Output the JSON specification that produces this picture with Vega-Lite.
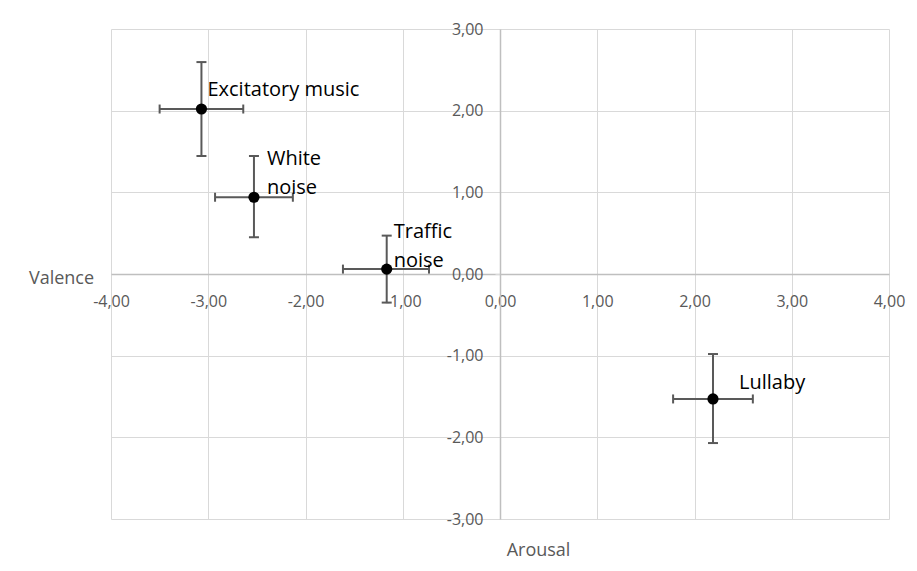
{
  "$schema": "https://vega.github.io/schema/vega-lite/v6.json",
  "width": 778,
  "height": 490,
  "autosize": {"type": "none"},
  "padding": {"left": 111, "top": 29, "right": 28, "bottom": 52},
  "background": "white",
  "config": {"view": {"stroke": null}, "font": "Open Sans"},
  "data": {
    "values": [
      {"name": "Excitatory music", "x": -3.07, "y": 2.02, "xlo": -3.5, "xhi": -2.64, "ylo": 1.445, "yhi": 2.595},
      {"name": "White noise", "x": -2.53, "y": 0.94, "xlo": -2.93, "xhi": -2.13, "ylo": 0.45, "yhi": 1.445},
      {"name": "Traffic noise", "x": -1.165, "y": 0.06, "xlo": -1.615, "xhi": -0.73, "ylo": -0.35, "yhi": 0.47},
      {"name": "Lullaby", "x": 2.19, "y": -1.53, "xlo": 1.78, "xhi": 2.6, "ylo": -2.07, "yhi": -0.98}
    ]
  },
  "layer": [
    {
      "mark": {"type": "rule", "color": "#595959", "strokeWidth": 2},
      "encoding": {
        "x": {
          "field": "xlo", "type": "quantitative",
          "scale": {"domain": [-4, 4], "nice": false, "zero": false},
          "axis": {
            "title": "Arousal",
            "values": [-4, -3, -2, -1, 0, 1, 2, 3, 4],
            "offset": -245,
            "grid": true, "gridColor": "#d9d9d9", "gridWidth": 1,
            "domainColor": "#bfbfbf", "domainWidth": 1.5,
            "ticks": true, "tickColor": "#d9d9d9", "tickSize": 5,
            "labelPadding": 14,
            "labelFont": "Open Sans", "labelFontSize": 16, "labelColor": "#595959",
            "labelFlush": false, "labelOverlap": false,
            "labelBaseline": "top",
            "labelExpr": "replace(replace(format(datum.value, '.2f'), '.', ','), '\u2212', '-')",
            "titleFont": "Open Sans", "titleFontSize": 18, "titleColor": "#595959", "titleFontWeight": "normal",
            "titleX": 427, "titleY": 281, "titleAlign": "center", "titleBaseline": "alphabetic"
          }
        },
        "x2": {"field": "xhi"},
        "y": {
          "field": "y", "type": "quantitative",
          "scale": {"domain": [-3, 3], "nice": false, "zero": false},
          "axis": {
            "title": "Valence",
            "values": [-3, -2, -1, 0, 1, 2, 3],
            "offset": -389,
            "grid": true, "gridColor": "#d9d9d9", "gridWidth": 1,
            "domainColor": "#bfbfbf", "domainWidth": 1.5,
            "ticks": true, "tickColor": "#d9d9d9", "tickSize": 5,
            "labelPadding": 12,
            "labelFont": "Open Sans", "labelFontSize": 16, "labelColor": "#595959",
            "labelOverlap": false, "labelFlush": false,
            "labelExpr": "replace(replace(format(datum.value, '.2f'), '.', ','), '\u2212', '-')",
            "titleFont": "Open Sans", "titleFontSize": 18, "titleColor": "#595959", "titleFontWeight": "normal",
            "titleAngle": 0, "titleX": -439, "titleY": 254, "titleAlign": "center", "titleBaseline": "alphabetic"
          }
        }
      }
    },
    {
      "mark": {"type": "rule", "color": "#595959", "strokeWidth": 2},
      "encoding": {
        "x": {"field": "x", "type": "quantitative"},
        "y": {"field": "ylo", "type": "quantitative"},
        "y2": {"field": "yhi"}
      }
    },
    {
      "mark": {"type": "tick", "orient": "vertical", "color": "#595959", "thickness": 2, "size": 9, "opacity": 1},
      "encoding": {
        "x": {"field": "xlo", "type": "quantitative"},
        "y": {"field": "y", "type": "quantitative"}
      }
    },
    {
      "mark": {"type": "tick", "orient": "vertical", "color": "#595959", "thickness": 2, "size": 9, "opacity": 1},
      "encoding": {
        "x": {"field": "xhi", "type": "quantitative"},
        "y": {"field": "y", "type": "quantitative"}
      }
    },
    {
      "mark": {"type": "tick", "orient": "horizontal", "color": "#595959", "thickness": 2, "size": 10, "opacity": 1},
      "encoding": {
        "x": {"field": "x", "type": "quantitative"},
        "y": {"field": "ylo", "type": "quantitative"}
      }
    },
    {
      "mark": {"type": "tick", "orient": "horizontal", "color": "#595959", "thickness": 2, "size": 10, "opacity": 1},
      "encoding": {
        "x": {"field": "x", "type": "quantitative"},
        "y": {"field": "yhi", "type": "quantitative"}
      }
    },
    {
      "mark": {"type": "circle", "color": "#000000", "size": 125, "opacity": 1},
      "encoding": {
        "x": {"field": "x", "type": "quantitative"},
        "y": {"field": "y", "type": "quantitative"}
      }
    },
    {
      "transform": [{"filter": "datum.name === 'Excitatory music'"}],
      "mark": {"type": "text", "align": "left", "baseline": "alphabetic", "dx": 6, "dy": -13, "font": "Open Sans", "fontSize": 20, "color": "#000000"},
      "encoding": {
        "x": {"field": "x", "type": "quantitative"},
        "y": {"field": "y", "type": "quantitative"},
        "text": {"field": "name"}
      }
    },
    {
      "transform": [{"filter": "datum.name === 'White noise'"}],
      "mark": {"type": "text", "align": "left", "baseline": "alphabetic", "dx": 13, "dy": -32, "lineBreak": " ", "lineHeight": 28.5, "font": "Open Sans", "fontSize": 20, "color": "#000000"},
      "encoding": {
        "x": {"field": "x", "type": "quantitative"},
        "y": {"field": "y", "type": "quantitative"},
        "text": {"field": "name"}
      }
    },
    {
      "transform": [{"filter": "datum.name === 'Traffic noise'"}],
      "mark": {"type": "text", "align": "left", "baseline": "alphabetic", "dx": 7, "dy": -31, "lineBreak": " ", "lineHeight": 28.5, "font": "Open Sans", "fontSize": 20, "color": "#000000"},
      "encoding": {
        "x": {"field": "x", "type": "quantitative"},
        "y": {"field": "y", "type": "quantitative"},
        "text": {"field": "name"}
      }
    },
    {
      "transform": [{"filter": "datum.name === 'Lullaby'"}],
      "mark": {"type": "text", "align": "left", "baseline": "alphabetic", "dx": 26, "dy": -10, "font": "Open Sans", "fontSize": 20, "color": "#000000"},
      "encoding": {
        "x": {"field": "x", "type": "quantitative"},
        "y": {"field": "y", "type": "quantitative"},
        "text": {"field": "name"}
      }
    }
  ]
}
